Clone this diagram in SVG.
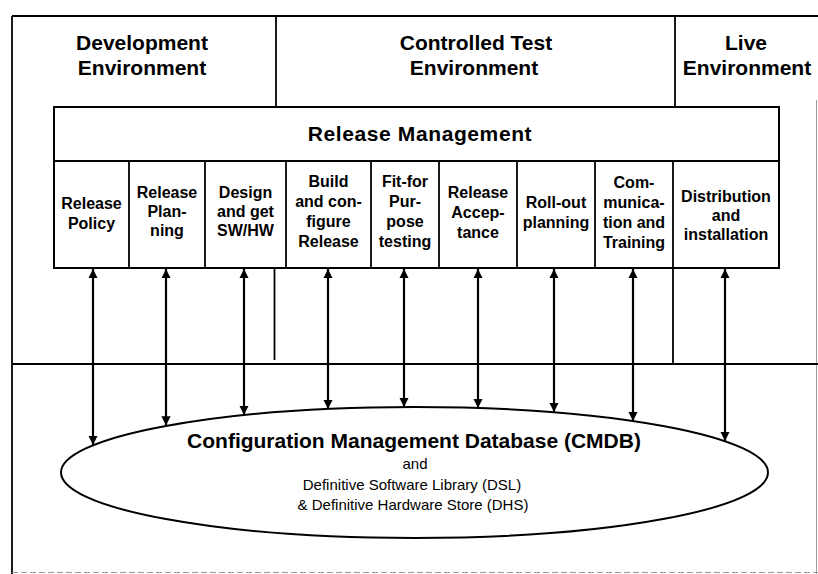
<svg xmlns="http://www.w3.org/2000/svg" width="818" height="574" viewBox="0 0 818 574">
  <defs>
    <style>
      .frame { fill: none; stroke: #000; stroke-width: 1.8; }
      .faint { fill: none; stroke: #9a9a9a; stroke-width: 1; }
      .box { fill: #fff; stroke: #000; stroke-width: 2; }
      .div { fill: none; stroke: #000; stroke-width: 1.8; }
      .link { fill: none; stroke: #000; stroke-width: 2.2; marker-start: url(#head); marker-end: url(#head); }
      .env { font-family: "Liberation Sans", Arial, sans-serif; font-weight: bold; font-size: 21px; text-anchor: middle; fill: #000; }
      .title { font-family: "Liberation Sans", Arial, sans-serif; font-weight: bold; font-size: 21px; letter-spacing: 0.6px; text-anchor: middle; fill: #000; }
      .step { font-family: "Liberation Sans", Arial, sans-serif; font-weight: bold; font-size: 16px; text-anchor: middle; fill: #000; }
      .db { font-family: "Liberation Sans", Arial, sans-serif; font-weight: bold; font-size: 21px; text-anchor: middle; fill: #000; }
      .dbsub { font-family: "Liberation Sans", Arial, sans-serif; font-size: 15px; text-anchor: middle; fill: #000; }
    </style>
    <marker id="head" viewBox="0 0 10 10" refX="10" refY="5" markerWidth="4.2" markerHeight="4.6" markerUnits="strokeWidth" orient="auto-start-reverse">
      <path d="M0,0 L10,5 L0,10 Z" fill="#000"/>
    </marker>
  </defs>

  <!-- environment frame -->
  <g id="environments">
    <path class="frame" d="M12,16 H818"/>
    <path class="frame" d="M12,16 V574"/>
    <path class="faint" d="M816.5,100 V574"/>
    <path class="faint" d="M12,572.5 H818" stroke-dasharray="6 3"/>
    <path class="frame" d="M12,364 H818"/>
    <path class="div" d="M276,16 V107"/>
    <path class="div" d="M675,16 V107"/>
    <path class="div" d="M274.5,268 V360"/>
    <path class="div" d="M673,268 V364"/>
  </g>

  <g id="env-development">
    <text class="env" x="142" y="50">Development</text>
    <text class="env" x="142" y="75">Environment</text>
  </g>
  <g id="env-controlled-test">
    <text class="env" x="476" y="50">Controlled Test</text>
    <text class="env" x="474" y="75">Environment</text>
  </g>
  <g id="env-live">
    <text class="env" x="746" y="50">Live</text>
    <text class="env" x="747" y="75">Environment</text>
  </g>

  <!-- release management process box -->
  <g id="release-management">
    <rect class="box" x="54" y="107" width="725" height="161"/>
    <path class="div" d="M54,161 H779"/>
    <text class="title" x="420" y="141">Release Management</text>
  </g>

  <g id="step-policy">
    <text class="step" x="91.5" y="209">Release</text>
    <text class="step" x="91.5" y="229">Policy</text>
  </g>
  <g id="step-planning">
    <path class="div" d="M129,161 V268"/>
    <text class="step" x="167" y="198">Release</text>
    <text class="step" x="167" y="217">Plan-</text>
    <text class="step" x="167" y="236">ning</text>
  </g>
  <g id="step-design">
    <path class="div" d="M205,161 V268"/>
    <text class="step" x="245.5" y="198">Design</text>
    <text class="step" x="245.5" y="217">and get</text>
    <text class="step" x="245.5" y="236">SW/HW</text>
  </g>
  <g id="step-build">
    <path class="div" d="M286,161 V268"/>
    <text class="step" x="328.5" y="187">Build</text>
    <text class="step" x="328.5" y="207">and con-</text>
    <text class="step" x="328.5" y="227">figure</text>
    <text class="step" x="328.5" y="247">Release</text>
  </g>
  <g id="step-testing">
    <path class="div" d="M371,161 V268"/>
    <text class="step" x="405" y="187">Fit-for</text>
    <text class="step" x="405" y="207">Pur-</text>
    <text class="step" x="405" y="227">pose</text>
    <text class="step" x="405" y="247">testing</text>
  </g>
  <g id="step-acceptance">
    <path class="div" d="M439,161 V268"/>
    <text class="step" x="478" y="198">Release</text>
    <text class="step" x="478" y="218">Accep-</text>
    <text class="step" x="478" y="238">tance</text>
  </g>
  <g id="step-rollout">
    <path class="div" d="M517,161 V268"/>
    <text class="step" x="556" y="208">Roll-out</text>
    <text class="step" x="556" y="228">planning</text>
  </g>
  <g id="step-communication">
    <path class="div" d="M595,161 V268"/>
    <text class="step" x="634" y="188">Com-</text>
    <text class="step" x="634" y="208">munica-</text>
    <text class="step" x="634" y="228">tion and</text>
    <text class="step" x="634" y="248">Training</text>
  </g>
  <g id="step-distribution">
    <path class="div" d="M673,161 V268"/>
    <text class="step" x="726" y="202">Distribution</text>
    <text class="step" x="726" y="221">and</text>
    <text class="step" x="726" y="240">installation</text>
  </g>

  <!-- configuration database -->
  <g id="cmdb">
    <ellipse cx="414.5" cy="472.5" rx="353.5" ry="65.5" fill="#fff" stroke="#000" stroke-width="2"/>
    <text class="db" x="414" y="448">Configuration Management Database (CMDB)</text>
    <text class="dbsub" x="415" y="469">and</text>
    <text class="dbsub" x="412" y="490">Definitive Software Library (DSL)</text>
    <text class="dbsub" x="413" y="510">&amp; Definitive Hardware Store (DHS)</text>
  </g>

  <!-- two-way links between process steps and the database -->
  <g id="connectors">
    <line class="link" x1="93" y1="269" x2="93" y2="445"/>
    <line class="link" x1="166" y1="269" x2="166" y2="425.5"/>
    <line class="link" x1="244" y1="269" x2="244" y2="415"/>
    <line class="link" x1="328" y1="269" x2="328" y2="409"/>
    <line class="link" x1="404" y1="269" x2="404" y2="407"/>
    <line class="link" x1="478" y1="269" x2="478" y2="408"/>
    <line class="link" x1="554" y1="269" x2="554" y2="412"/>
    <line class="link" x1="633" y1="269" x2="633" y2="421"/>
    <line class="link" x1="725" y1="269" x2="725" y2="441"/>
  </g>
</svg>
